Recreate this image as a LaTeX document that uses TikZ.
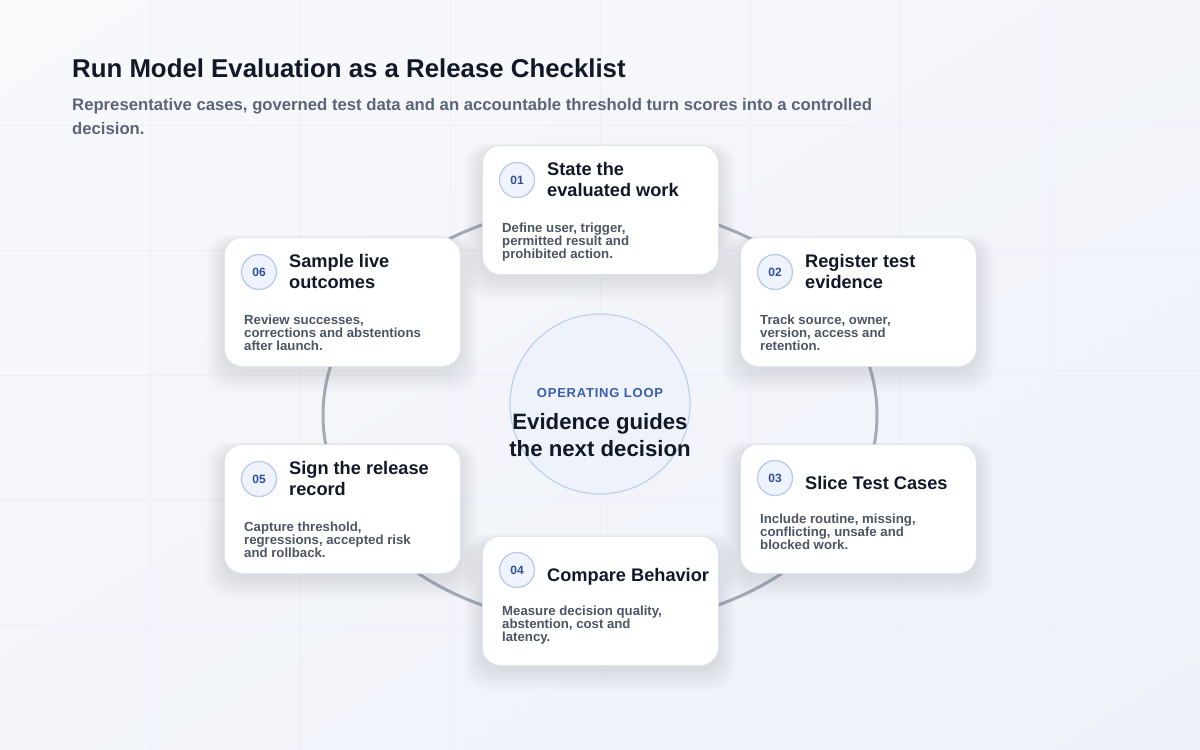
\documentclass[tikz,border=0pt]{standalone}
\usepackage{fontspec}
\setmainfont{Liberation Sans}
\newfontfamily\spacedfont[LetterSpace=6]{Liberation Sans}
\usetikzlibrary{calc,shadings}

\definecolor{bgA}{HTML}{F8F9FB}
\definecolor{bgM}{HTML}{F3F5FA}
\definecolor{bgB}{HTML}{EDF1F9}
\definecolor{gridc}{HTML}{ECEFF5}
\definecolor{ink}{HTML}{111827}
\definecolor{slate}{HTML}{5B6577}
\definecolor{desc}{HTML}{4B5563}
\definecolor{ringc}{HTML}{A5ABB6}
\definecolor{cardline}{HTML}{DFE4EC}
\definecolor{badgefill}{HTML}{EEF3FD}
\definecolor{badgeline}{HTML}{BBCAE8}
\definecolor{badgetext}{HTML}{2F4F9B}
\definecolor{hubfill}{HTML}{EDF2FB}
\definecolor{hubline}{HTML}{C2D2EE}
\definecolor{loopblue}{HTML}{3A5DAE}
\definecolor{shadowc}{HTML}{1E2A45}

\tikzset{
  card/.style={draw=cardline, line width=0.8pt, fill=white, rounded corners=18pt,
    minimum width=236pt, minimum height=129pt, inner sep=0pt, anchor=north west},
  badge/.style={circle, draw=badgeline, line width=1.3pt, fill=badgefill,
    minimum size=35pt, inner sep=0pt, text=badgetext,
    font=\bfseries\fontsize{12}{12}\selectfont},
  ctitle/.style={anchor=base west, inner sep=0pt, text=ink,
    font=\bfseries\fontsize{18.2}{18}\selectfont},
  cdesc/.style={anchor=base west, inner sep=0pt, text=desc,
    font=\bfseries\fontsize{13.2}{13}\selectfont},
  ringline/.style={draw=ringc, line width=3pt},
  gridline/.style={draw=gridc, line width=0.8pt},
}

% #1 name, #2 left, #3 top, #4 number, #5 title lines, #6 desc lines,
% #7 title baseline offset, #8 desc baseline offset, #9 badge offset
\newcommand\mkcard[9]{%
  \foreach \s in {1,...,12} {
    \fill[shadowc, opacity=0.008, rounded corners=22pt]
      ({#2-\s*1.5},{#3+5-\s*0.6}) rectangle ({#2+236+\s*1.5},{#3+129+4+\s*1.8});
  }
  \node[card] (#1) at (#2,#3) {};
  \node[badge] (#1-n) at ({#2+35},{#3+#9}) {#4};
  \foreach \t [count=\i] in {#5} {
    \node[ctitle] (#1-t\i) at ({#2+65},{#3+#7+(\i-1)*21}) {\t};
  }
  \foreach \t [count=\i] in {#6} {
    \node[cdesc] (#1-d\i) at ({#2+20},{#3+#8+(\i-1)*13}) {\t};
  }
}

\begin{document}
\begin{tikzpicture}[x=1pt, y=-1pt]
\useasboundingbox (0,0) rectangle (1200,750);
% background
\shade[upper left=bgA, upper right=bgM, lower left=bgM, lower right=bgB]
  (0,0) rectangle (1200,750);
\foreach \gx in {150,300,...,1050} { \draw[gridline] (\gx,0) -- (\gx,750); }
\foreach \gy in {125,250,...,625} { \draw[gridline] (0,\gy) -- (1200,\gy); }

% heading
\node[anchor=base west, inner sep=0pt, text=ink,
  font=\bfseries\fontsize{25.8}{26}\selectfont] (title) at (72,77)
  {Run Model Evaluation as a Release Checklist};
\node[anchor=base west, inner sep=0pt, text=slate,
  font=\bfseries\fontsize{16.7}{16}\selectfont] (sub1) at (72,110)
  {Representative cases, governed test data and an accountable threshold turn scores into a controlled};
\node[anchor=base west, inner sep=0pt, text=slate,
  font=\bfseries\fontsize{16.7}{16}\selectfont] (sub2) at (72,134)
  {decision.};

% ring
\draw[ringline] (600,415) ellipse [x radius=277pt, y radius=210pt];

% hub
\node[circle, draw=hubline, line width=1.3pt, fill=hubfill, minimum size=180pt,
  inner sep=0pt] (hub) at (600,404) {};
\node[anchor=base, inner sep=0pt, text=loopblue,
  font=\spacedfont\bfseries\fontsize{13}{13}\selectfont] (hubk) at (600,397)
  {OPERATING LOOP};
\node[anchor=base, inner sep=0pt, text=ink,
  font=\bfseries\fontsize{22.2}{22}\selectfont] (hub1) at (600,429) {Evidence guides};
\node[anchor=base, inner sep=0pt, text=ink,
  font=\bfseries\fontsize{22.2}{22}\selectfont] (hub2) at (600,456) {the next decision};

% cards
\mkcard{c1}{482}{145}{01}{State the, evaluated work}
  {{Define user, trigger,},{permitted result and},{prohibited action.}}{30.5}{87}{35}
\mkcard{c2}{740}{237}{02}{Register test, evidence}
  {{Track source, owner,},{version, access and},{retention.}}{30.5}{87}{35}
\mkcard{c3}{740}{444}{03}{Slice Test Cases}
  {{Include routine, missing,},{conflicting, unsafe and},{blocked work.}}{45}{79}{34}
\mkcard{c4}{482}{536}{04}{Compare Behavior}
  {{Measure decision quality,},{abstention, cost and},{latency.}}{45}{79}{34}
\mkcard{c5}{224}{444}{05}{Sign the release, record}
  {{Capture threshold,},{regressions, accepted risk},{and rollback.}}{30.5}{87}{35}
\mkcard{c6}{224}{237}{06}{Sample live, outcomes}
  {{Review successes,},{corrections and abstentions},{after launch.}}{30.5}{87}{35}
\end{tikzpicture}
\end{document}
